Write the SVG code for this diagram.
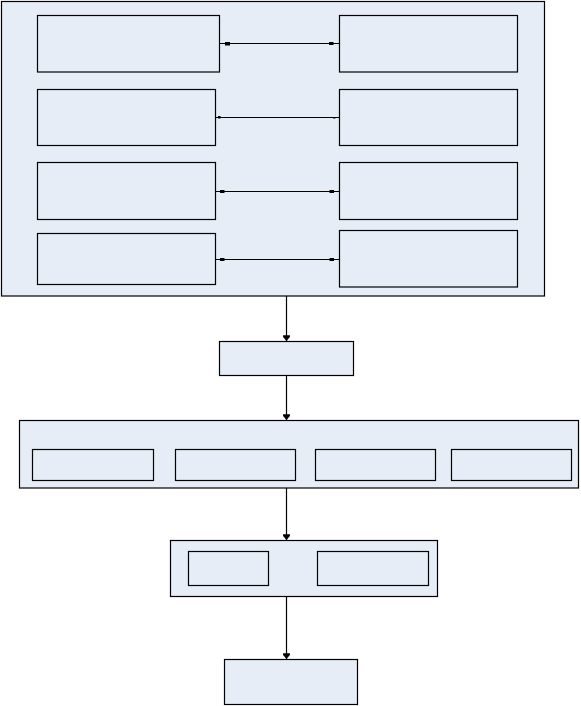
<svg xmlns="http://www.w3.org/2000/svg" width="581" height="706" viewBox="0 0 581 706">
<style>
.n{fill:#E6EDF7;stroke:#000;stroke-width:1.2}
.c{fill:none;stroke:#000;stroke-width:1.2}
.m{fill:#000}
</style>
<defs>
<marker id="ah" markerWidth="8" markerHeight="8" refX="6" refY="3.5" orient="auto" markerUnits="userSpaceOnUse" viewBox="0 0 7 7">
<path d="M1,0.5 L2.5,0.5 L6,3.5 L2.5,6.5 L1,6.5 Z" fill="#000"/>
</marker>
</defs>
<rect width="581" height="706" fill="#fff"/>
<g id="top-container"><rect class="n" x="1.5" y="1.5" width="543" height="294.5"/></g>
<g id="a1"><rect class="n" x="37.5" y="15.5" width="182" height="56.5"/></g>
<g id="b1"><rect class="n" x="339.5" y="15.5" width="178" height="56.5"/></g>
<g id="a2"><rect class="n" x="37.5" y="89.5" width="178" height="56"/></g>
<g id="b2"><rect class="n" x="339.5" y="89.5" width="178" height="56"/></g>
<g id="a3"><rect class="n" x="37.5" y="162.5" width="178" height="57"/></g>
<g id="b3"><rect class="n" x="339.5" y="162.5" width="178" height="57"/></g>
<g id="a4"><rect class="n" x="37.5" y="233.5" width="178" height="51"/></g>
<g id="b4"><rect class="n" x="339.5" y="230.5" width="178" height="56.5"/></g>
<g id="mid"><rect class="n" x="219.5" y="341.5" width="134" height="34"/></g>
<g id="row-container"><rect class="n" x="19.5" y="420.5" width="559" height="67.5"/></g>
<g id="r1"><rect class="n" x="32.5" y="449.5" width="121" height="31"/></g>
<g id="r2"><rect class="n" x="175.5" y="449.5" width="120" height="31"/></g>
<g id="r3"><rect class="n" x="315.5" y="449.5" width="120" height="31"/></g>
<g id="r4"><rect class="n" x="451.5" y="449.5" width="120" height="31"/></g>
<g id="pair-container"><rect class="n" x="170.5" y="540.5" width="267" height="56"/></g>
<g id="p1"><rect class="n" x="188.5" y="551.5" width="80" height="34"/></g>
<g id="p2"><rect class="n" x="317.5" y="551.5" width="111" height="34"/></g>
<g id="bottom"><rect class="n" x="224.5" y="659.5" width="133" height="45"/></g>
<g id="connectors">
<line class="c" x1="219.5" y1="43.5" x2="339.5" y2="43.5"/>
<rect class="m" x="225" y="42" width="5" height="3.5"/>
<rect class="m" x="329" y="42" width="4.5" height="3"/>
<line class="c" x1="215.5" y1="117.5" x2="339.5" y2="117.5"/>
<rect class="m" x="218" y="116" width="2.5" height="2.5"/>
<rect class="m" x="333" y="117" width="2.5" height="1.5"/>
<line class="c" x1="215.5" y1="191.5" x2="339.5" y2="191.5"/>
<rect class="m" x="220" y="190" width="4.5" height="3"/>
<rect class="m" x="329.5" y="190" width="4.5" height="3"/>
<line class="c" x1="215.5" y1="259.5" x2="339.5" y2="259.5"/>
<rect class="m" x="220" y="258" width="4.5" height="3"/>
<rect class="m" x="329.5" y="258" width="4.5" height="3"/>
<line class="c" x1="286.5" y1="296" x2="286.5" y2="341" marker-end="url(#ah)"/>
<line class="c" x1="286.5" y1="375.5" x2="286.5" y2="420" marker-end="url(#ah)"/>
<line class="c" x1="286.5" y1="488" x2="286.5" y2="540" marker-end="url(#ah)"/>
<line class="c" x1="286.5" y1="596.5" x2="286.5" y2="659" marker-end="url(#ah)"/>
</g>
</svg>
